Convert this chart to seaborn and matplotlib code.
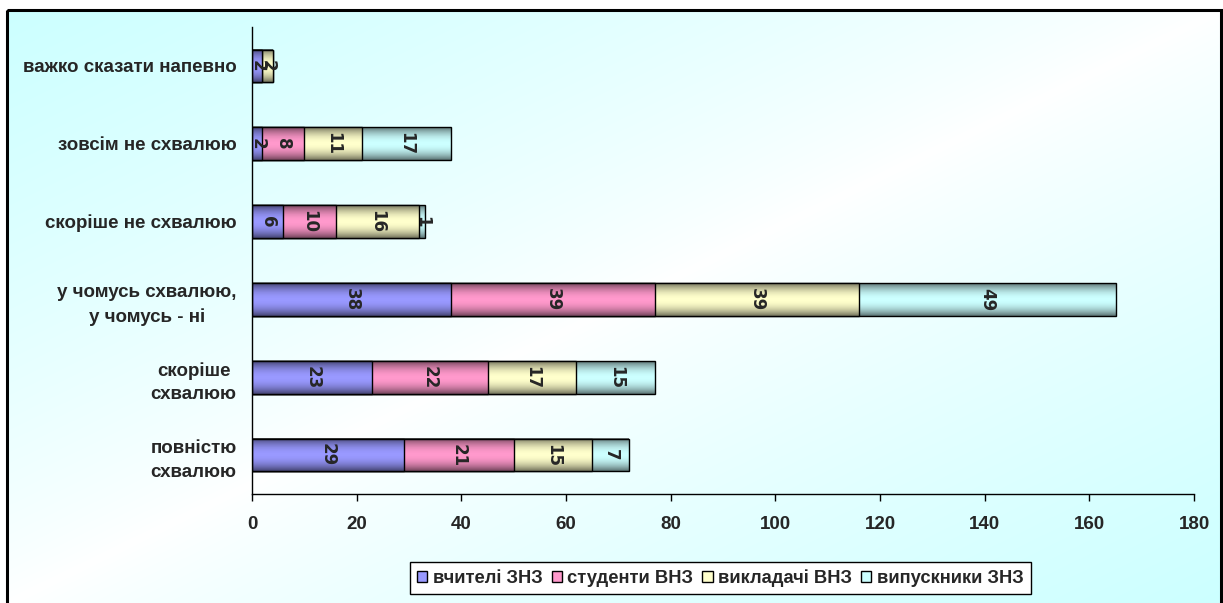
"""
Stacked horizontal bar chart: attitude of four respondent groups (Ukrainian survey).
"""
import numpy as np
import pandas as pd
import matplotlib.pyplot as plt
import seaborn as sns
from matplotlib import font_manager
from matplotlib.patches import Patch, Rectangle

# --- data (top to bottom as on the chart) ---
categories = [
    "важко сказати напевно",
    "зовсім не схвалюю",
    "скоріше не схвалюю",
    "у чомусь схвалюю,\nу чомусь - ні",
    "скоріше\nсхвалюю",
    "повністю\nсхвалюю",
]
groups = ["вчителі ЗНЗ", "студенти ВНЗ", "викладачі ВНЗ", "випускники ЗНЗ"]
teachers = [2, 2, 6, 38, 23, 29]
students = [0, 8, 10, 39, 22, 21]
lecturers = [2, 11, 16, 39, 17, 15]
graduates = [0, 17, 1, 49, 15, 7]
x_ticks = [0, 20, 40, 60, 80, 100, 120, 140, 160, 180]

colors = ["#9999FF", "#FF99CC", "#FFFFCC", "#CCFFFF"]
BAR_W = 0.42

sns.set_theme(style="white")
installed = {f.name for f in font_manager.fontManager.ttflist}
if "Liberation Sans Narrow" in installed:
    plt.rcParams["font.family"] = ["Liberation Sans Narrow", "DejaVu Sans"]
    tick_fs, leg_fs = 16, 16
else:
    plt.rcParams["font.family"] = ["Liberation Sans", "DejaVu Sans"]
    tick_fs, leg_fs = 13.5, 13.2

W, H = 1223, 603
fig = plt.figure(figsize=(W / 100, H / 100), dpi=100, facecolor="white")

# background: diagonal cyan/white gradient inside a black frame
bg = fig.add_axes([0, 0, 1, 1], zorder=-1)
yy, xx = np.mgrid[0:H, 0:W]
s = (xx / W + yy / H) / 2
wgt = np.abs(2 * s - 1) ** 0.8
cyan = np.array([0.8, 1.0, 1.0])
img = 1 - wgt[..., None] * (1 - cyan)
bg.imshow(img, extent=(7, 1221, 603, 10), aspect="auto")
bg.add_patch(Rectangle((7, 10), 1214, 610, fill=False, lw=2.2, edgecolor="black"))
bg.set_xlim(0, W)
bg.set_ylim(H, 0)
bg.axis("off")

ax = fig.add_axes([252 / W, 109 / H, (1194 - 252) / W, (494 - 27) / H])
ax.patch.set_alpha(0)

series = [teachers, students, lecturers, graduates]
cum = np.cumsum(series, axis=0)
df = pd.DataFrame({"category": categories})
for i in range(4):
    df[f"cum{i}"] = cum[i]

# stacked by overdrawing cumulative totals, widest first
for i in reversed(range(4)):
    sns.barplot(data=df, x=f"cum{i}", y="category", orient="h",
                color=colors[i], saturation=1, width=BAR_W,
                edgecolor="black", linewidth=1, errorbar=None, ax=ax)

# darker top/bottom edges of the bars (Excel-style shading)
t = np.linspace(-1, 1, 64)
shade = np.zeros((64, 1, 4))
shade[:, 0, 3] = 0.55 * np.abs(t) ** 2
for k, tot in enumerate(cum[-1]):
    ax.imshow(shade, extent=(0, tot, k + BAR_W / 2, k - BAR_W / 2),
              aspect="auto", zorder=2, interpolation="bilinear")

# value labels
for k in range(len(categories)):
    left = 0
    for vals in series:
        v = vals[k]
        if v > 0:
            ax.text(left + v / 2, k, str(v), rotation=-90, ha="center", va="center",
                    fontsize=12, fontweight="bold", family="DejaVu Sans", zorder=5)
        left += v

ax.set_xlim(0, 180)
ax.set_ylim(len(categories) - 0.5, -0.5)
ax.set_xticks(x_ticks)
ax.set_xticklabels([str(v) for v in x_ticks], fontsize=tick_fs, fontweight="bold")
ax.set_yticks(range(len(categories)))
ax.set_yticklabels(categories, ha="right", multialignment="center",
                   fontsize=tick_fs, fontweight="bold", linespacing=1.5)
ax.set_xlabel("")
ax.set_ylabel("")
ax.tick_params(axis="x", bottom=True, length=5, width=1, color="black", pad=11,
               direction="out")
ax.tick_params(axis="y", left=False, length=0, pad=11)
for side in ["top", "right"]:
    ax.spines[side].set_visible(False)
for side in ["left", "bottom"]:
    ax.spines[side].set_color("black")
    ax.spines[side].set_linewidth(1)

handles = [Patch(facecolor=c, edgecolor="black", lw=1) for c in colors]
leg = fig.legend(handles, groups, loc="center", bbox_to_anchor=(0.589, 0.041), ncol=4,
                 fancybox=False, edgecolor="black", framealpha=1, facecolor="white",
                 handlelength=0.55, handleheight=0.55, handletextpad=0.3,
                 columnspacing=0.5, borderpad=0.4,
                 prop={"size": leg_fs, "weight": "bold"})
leg.get_frame().set_linewidth(1)

fig.savefig("out.png", dpi=100, facecolor="white")
